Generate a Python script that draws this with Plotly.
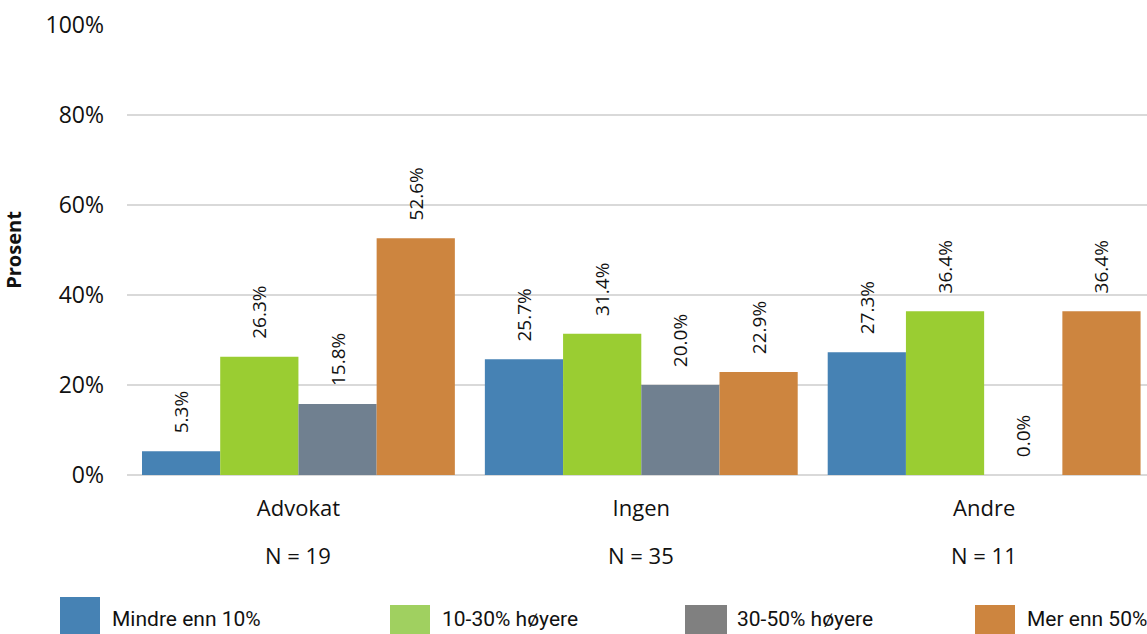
import plotly.graph_objects as go

categories = ["Advokat", "Ingen", "Andre"]
n_labels = ["N = 19", "N = 35", "N = 11"]
series_names = ["Mindre enn 10%", "10-30% høyere", "30-50% høyere", "Mer enn 50%"]
mindre_10 = [5.3, 25.7, 27.3]
h10_30 = [26.3, 31.4, 36.4]
h30_50 = [15.8, 20.0, 0.0]
mer_50 = [52.6, 22.9, 36.4]
y_ticks = [0, 20, 40, 60, 80, 100]

bar_colors = ["#4682B4", "#9ACD32", "#708090", "#CD853F"]
legend_colors = ["#4682B4", "#A0D060", "#808080", "#CD853F"]

W, H = 1147, 634
L, R, T, B = 127, 0, 25, 159
pw, ph = W - L - R, H - T - B

def px(x):
    return (x - L) / pw

def py(y):
    return 1 - (y - T) / ph

FONT = "Open Sans"
PAD = "\u00a0\u00a0\u00a0"
fig = go.Figure()
for name, vals, col in zip(series_names, [mindre_10, h10_30, h30_50, mer_50], bar_colors):
    fig.add_trace(go.Bar(
        x=categories, y=vals, name=name, marker_color=col, marker_line_width=0,
        text=[f"{PAD}{v:.1f}%" for v in vals], textposition="outside", textangle=-90,
        textfont=dict(family=FONT, size=19, color="#111111"), cliponaxis=False,
        showlegend=False,
    ))

fig.update_layout(
    width=W, height=H, margin=dict(l=L, r=R, t=T, b=B),
    paper_bgcolor="white", plot_bgcolor="white",
    barmode="group", bargap=0.0875, bargroupgap=0,
    font=dict(family=FONT, size=22, color="#111111"),
)
fig.update_yaxes(
    range=[0, 100], tickvals=y_ticks, ticktext=[f"{v}%" for v in y_ticks],
    showgrid=True, gridcolor="#D9D9D9", gridwidth=2, zeroline=True, zerolinecolor="#D9D9D9", zerolinewidth=2,
    ticklabelstandoff=22, tickfont=dict(size=23),
    title=dict(text="<b>Prosent</b>", font=dict(size=20, color="#111111"), standoff=18),
)
fig.update_xaxes(
    range=[-0.5, 2.475], showgrid=False, showline=False,
    tickfont=dict(size=22), ticklabelstandoff=18,
)

for cat, nl in zip(categories, n_labels):
    fig.add_annotation(x=cat, y=py(555), xref="x", yref="paper", text=nl, showarrow=False,
                       font=dict(size=22), xanchor="center", yanchor="middle")

legend_pos = [(60, 100, 597, 110), (390, 430, 605, 440), (685, 727, 605, 735), (975, 1015, 605, 1025)]
for (x0, x1, y0, tx), col, name in zip(legend_pos, legend_colors, series_names):
    fig.add_shape(type="rect", xref="paper", yref="paper", x0=px(x0), x1=px(x1), y0=py(y0), y1=py(640),
                  fillcolor=col, line_width=0)
    fig.add_annotation(x=px(tx), y=py(619), xref="paper", yref="paper", text=name, showarrow=False,
                       xanchor="left", yanchor="middle", font=dict(family="Roboto", size=21))

fig.write_html("out.html", config={"displayModeBar": False},
               post_script="document.body.style.margin='0';document.body.style.overflow='hidden';")
